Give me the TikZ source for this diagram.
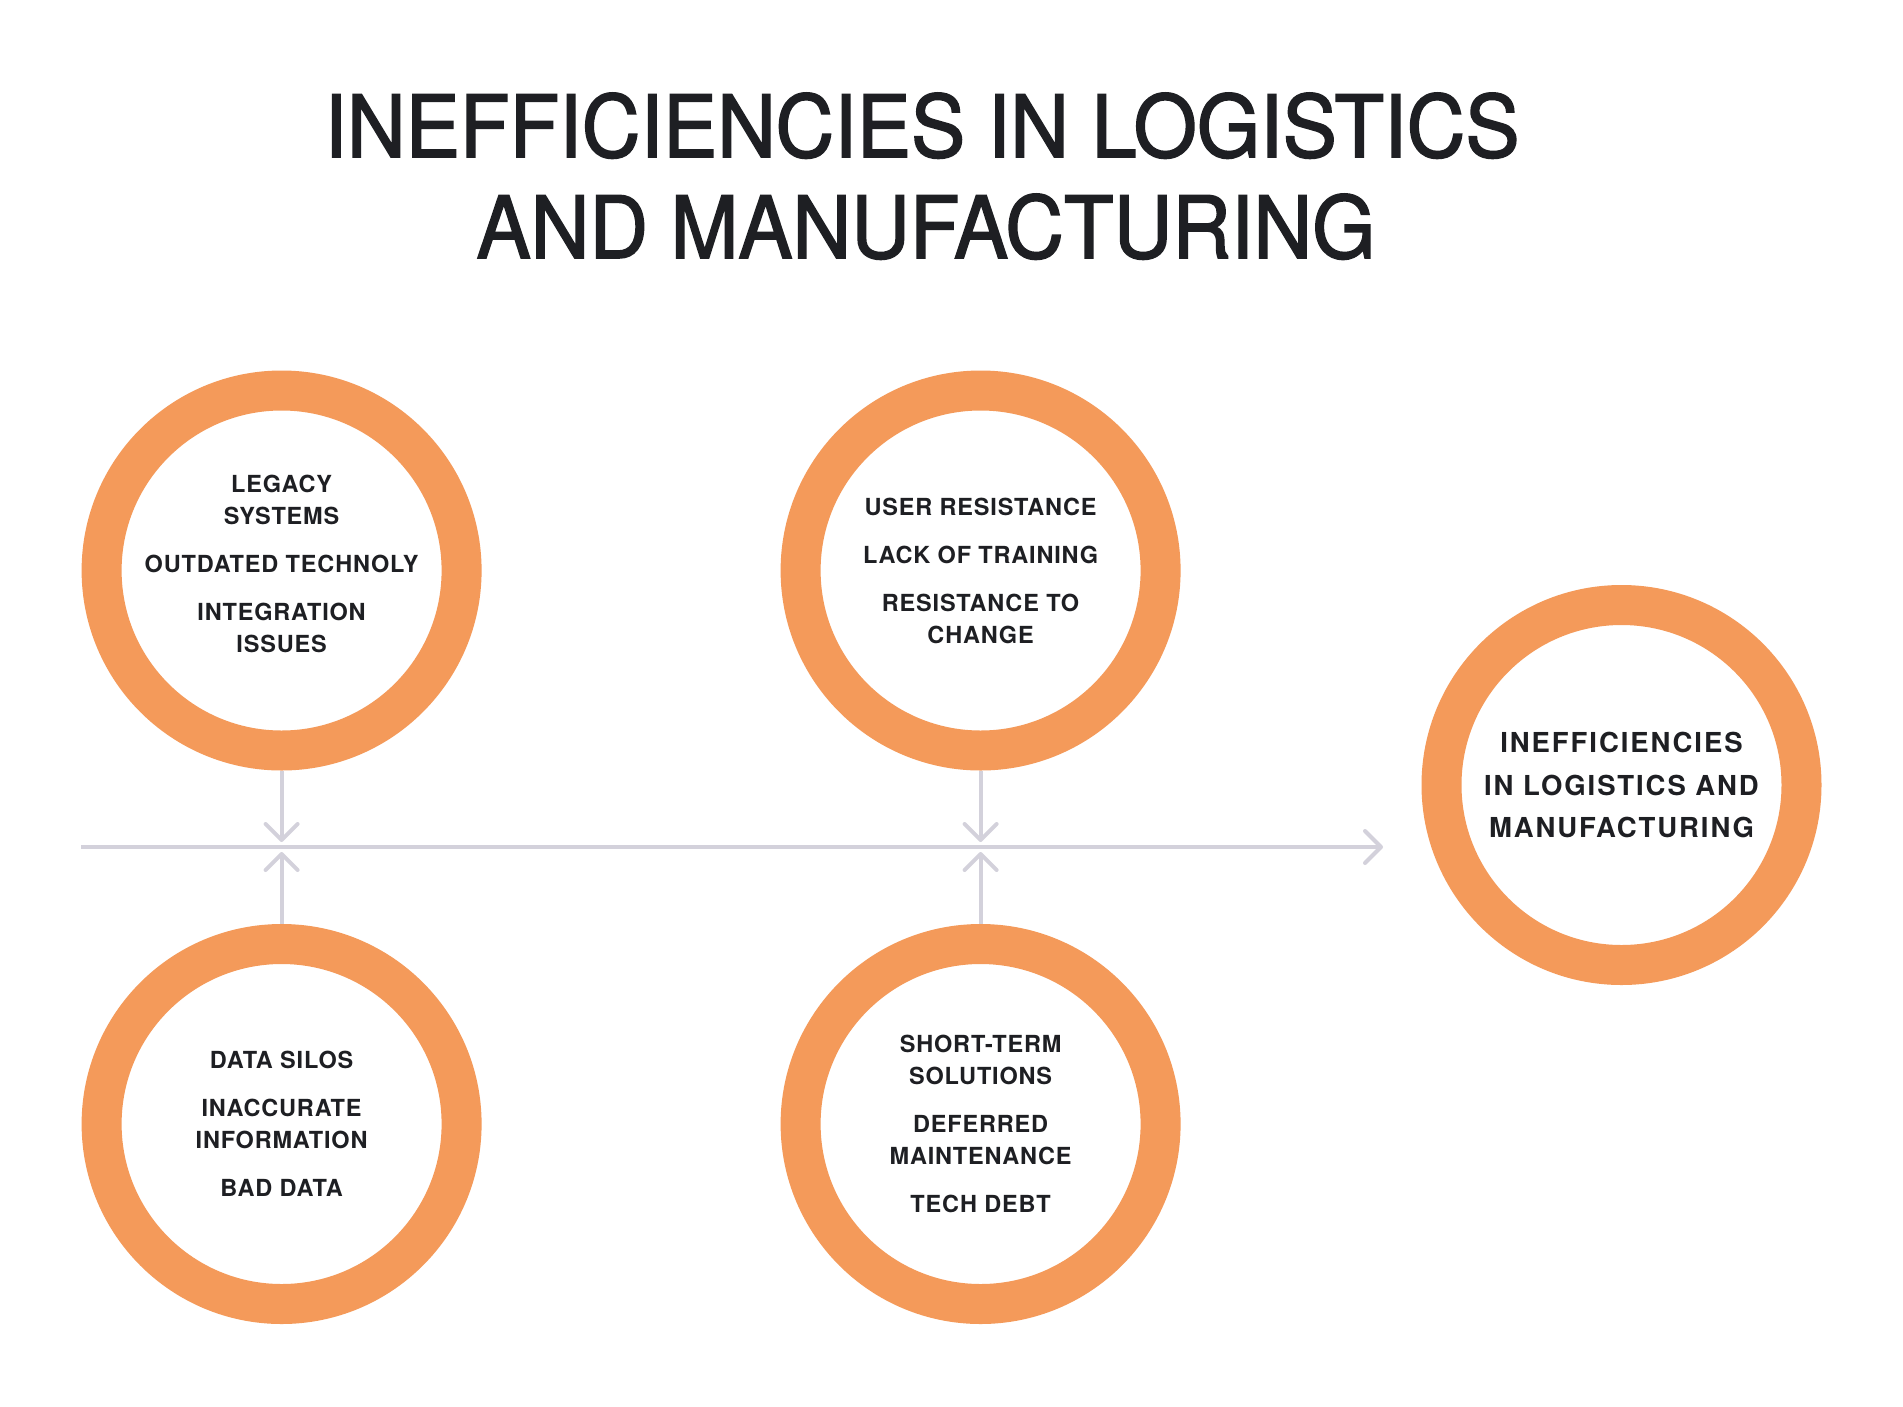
\documentclass[tikz,border=0pt]{standalone}
\usepackage{fontspec}
\usetikzlibrary{arrows.meta}
\newfontfamily\titlefont[FakeStretch=0.945,FakeBold=1.8]{TeX Gyre Heros}
\newfontfamily\bodyfont[LetterSpace=3.5]{TeX Gyre Heros}
\newfontfamily\bigbodyfont[LetterSpace=7]{TeX Gyre Heros}
\definecolor{ringc}{HTML}{F49A5A}
\definecolor{lineg}{HTML}{D3D1DB}
\definecolor{ink}{HTML}{1E1F23}
\tikzset{
  chev/.tip={Straight Barb[length=16pt,width=32pt,line cap=round,line join=round]},
  ring/.style={circle, draw=ringc, line width=40pt, minimum size=360pt, inner sep=0pt,
    align=center, text=ink, font=\bodyfont\bfseries\fontsize{23.5}{32}\selectfont},
  ringtext/.style={inner sep=0pt, align=center, text=ink, font=\bodyfont\bfseries\fontsize{23.5}{32}\selectfont},
  bigring/.style={ring, font=\bigbodyfont\bfseries\fontsize{27.5}{42.5}\selectfont},
  conn/.style={draw=lineg, line width=4pt},
  titletext/.style={anchor=base, text=ink, inner sep=0pt, font=\titlefont\fontsize{86}{101}\selectfont}
}
\begin{document}
\begin{tikzpicture}[x=1pt,y=-1pt]
\useasboundingbox[fill=white] (0,0) rectangle (1903,1406);
\node[titletext] (title1) at (922,157) {INEFFICIENCIES IN LOGISTICS};
\node[titletext] (title2) at (926,258) {AND MANUFACTURING};

\coordinate (hs) at (81,847);
\coordinate (he) at (1383,847);
\draw[conn,-{chev}] (hs) -- (he);

\node[ring] (c1) at (281.6,570.5) {};
\node[ringtext] (c1t) at (281.6,563.5) {LEGACY\\SYSTEMS\\[16pt]OUTDATED TECHNOLY\\[16pt]INTEGRATION\\ISSUES};
\node[ring] (c2) at (980.6,570.5) {USER RESISTANCE\\[16pt]LACK OF TRAINING\\[16pt]RESISTANCE TO\\CHANGE};
\node[ring] (c3) at (281.6,1124) {DATA SILOS\\[16pt]INACCURATE\\INFORMATION\\[16pt]BAD DATA};
\node[ring] (c4) at (980.6,1124) {SHORT-TERM\\SOLUTIONS\\[16pt]DEFERRED\\MAINTENANCE\\[16pt]TECH DEBT};
\node[bigring] (c5) at (1621.5,785) {INEFFICIENCIES\\IN LOGISTICS AND\\MANUFACTURING};

\coordinate (t1) at (281.6,842);
\coordinate (t2) at (980.6,842);
\coordinate (t3) at (281.6,852);
\coordinate (t4) at (980.6,852);
\draw[conn,-{chev}] (c1.south) -- (t1);
\draw[conn,-{chev}] (c2.south) -- (t2);
\draw[conn,-{chev}] (c3.north) -- (t3);
\draw[conn,-{chev}] (c4.north) -- (t4);
\end{tikzpicture}
\end{document}
